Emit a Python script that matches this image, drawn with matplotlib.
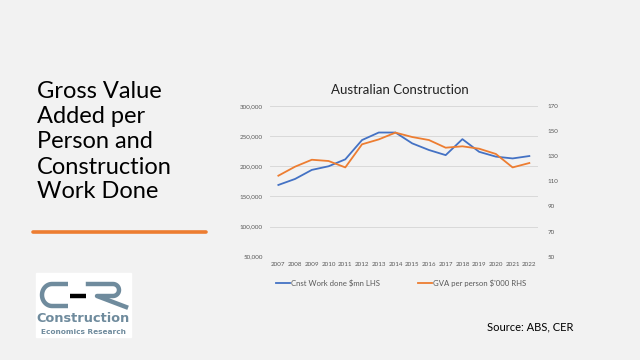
import numpy as np
import matplotlib.pyplot as plt
from matplotlib.patches import Rectangle

years = ["2007", "2008", "2009", "2010", "2011", "2012", "2013", "2014",
         "2015", "2016", "2017", "2018", "2019", "2020", "2021", "2022"]
work_done = [169000, 179000, 194000, 200000, 211500, 243500, 256000, 256000,
             238000, 227000, 218500, 245000, 224000, 216000, 213000, 217000]
gva_person = [114.5, 121.7, 127.2, 126.2, 121.1, 139.5, 143.4, 148.8,
              145.3, 142.9, 136.8, 137.9, 136.0, 131.8, 121.1, 124.6]
left_ticks = [50000, 100000, 150000, 200000, 250000, 300000]
right_ticks = [50, 70, 90, 110, 130, 150, 170]

BG = "#f2f2f2"
BLUE = "#4472c4"
ORANGE = "#ed7d31"
TICK = "#595959"
LOGO = "#6f8b9d"

plt.rcParams['font.family'] = ['Lato', 'DejaVu Sans']

fig = plt.figure(figsize=(6.4, 3.6), dpi=100)
fig.patch.set_facecolor(BG)

# slide heading
heading = ["Gross Value", "Added per", "Person and", "Construction", "Work Done"]
for i, line in enumerate(heading):
    fig.text(37 / 640, 1 - (92 + i * 25) / 360, line, fontsize=17,
             color="black", va="center", ha="left")
fig.add_artist(plt.Line2D([33 / 640, 206 / 640], [1 - 232 / 360, 1 - 232 / 360],
                          color=ORANGE, lw=2.6, solid_capstyle="round"))

# chart
ax = fig.add_axes([270 / 640, 1 - 256.7 / 360, 267.7 / 640, 150.7 / 360])
ax.set_facecolor(BG)
x = np.arange(len(years))
l1, = ax.plot(x, work_done, color=BLUE, lw=1.3, label="Cnst Work done $mn LHS")
ax.set_xlim(-0.5, len(years) - 0.5)
ax.set_ylim(50000, 300000)
ax.set_yticks(left_ticks)
ax.set_yticklabels([f"{v:,}" for v in left_ticks])
ax.set_xticks(x)
ax.set_xticklabels(years)
ax.grid(axis="y", color="#d9d9d9", lw=0.7)
ax.set_axisbelow(True)
for s in ax.spines.values():
    s.set_visible(False)
ax.tick_params(axis="both", length=0, labelsize=4.5, labelcolor=TICK)
ax.tick_params(axis="y", pad=5)
ax.tick_params(axis="x", pad=4)

ax2 = ax.twinx()
l2, = ax2.plot(x, gva_person, color=ORANGE, lw=1.3, label="GVA per person $'000 RHS")
ax2.set_ylim(50, 170)
ax2.set_yticks(right_ticks)
for s in ax2.spines.values():
    s.set_visible(False)
ax2.tick_params(axis="y", length=0, labelsize=4.5, labelcolor=TICK, pad=7)

fig.text(400 / 640, 1 - 90 / 360, "Australian Construction", fontsize=9.5,
         ha="center", va="center", color="#222222")
fig.legend([l1, l2], [l1.get_label(), l2.get_label()], loc="center",
           bbox_to_anchor=(401 / 640, 1 - 283 / 360), ncol=2, frameon=False,
           fontsize=5.6, handlelength=1.8, handletextpad=0.2, columnspacing=4.8,
           labelcolor=TICK)

# source
fig.text(487 / 640, 1 - 327 / 360, "Source: ABS, CER", fontsize=8,
         ha="left", va="center", color="black")

# logo
lg = fig.add_axes([0, 0, 1, 1], zorder=-1)
lg.set_xlim(0, 640)
lg.set_ylim(360, 0)
lg.axis("off")
lg.add_patch(Rectangle((36, 273), 95, 64, color="white"))
t = np.linspace(np.pi / 2, 3 * np.pi / 2, 30)
cx = np.r_[68, 52 + 10 * np.cos(t), 68]
cy = np.r_[284, 295 - 11 * np.sin(t), 306]
lg.plot(cx, cy, color=LOGO, lw=3.2, solid_capstyle="butt")
lg.plot([70, 86], [295.5, 295.5], color="black", lw=3.2, solid_capstyle="butt")
t2 = np.linspace(np.pi / 2, -np.pi / 2, 20)
rx = np.r_[88, 113 + 6 * np.cos(t2), 97, 126]
ry = np.r_[284, 290 - 6 * np.sin(t2), 296, 307]
lg.plot(rx, ry, color=LOGO, lw=3.2, solid_joinstyle="round")
lg.text(83, 319, "Construction", fontsize=9.3, fontweight="bold", color=LOGO,
        ha="center", va="center", family="DejaVu Sans")
lg.text(83, 331.5, "Economics Research", fontsize=5.3, fontweight="bold",
        color=LOGO, ha="center", va="center", family="DejaVu Sans")

fig.savefig("out.png", dpi=100, facecolor=BG)
